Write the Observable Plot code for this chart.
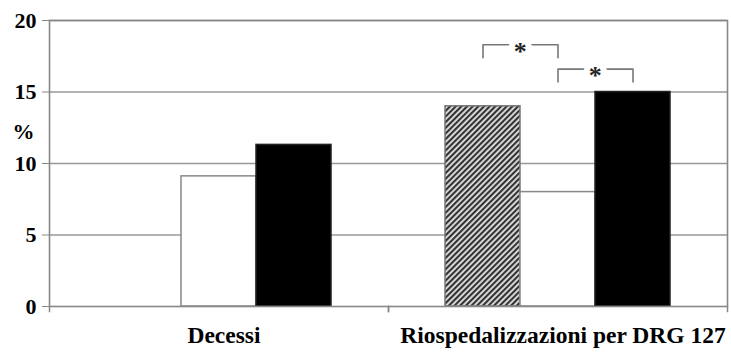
<!DOCTYPE html>
<html>
<head>
<meta charset="utf-8">
<script src="https://cdn.jsdelivr.net/npm/d3@7"></script>
<script src="https://cdn.jsdelivr.net/npm/@observablehq/plot@0.6"></script>
<style>
  html, body { margin: 0; padding: 0; background: #fff; }
  #chart { width: 731px; height: 352px; }
  #chart svg, #chart svg text { font-family: "Liberation Serif", "Times New Roman", Times, serif !important; }
</style>
</head>
<body>
<div id="chart"></div>
<script>
// ---- data ----
const groups = ["Decessi", "Riospedalizzazioni per DRG 127"];
const seriesKeys = ["hatched", "white", "black"];
const decessiValues = [null, 9.1, 11.3];
const riospValues = [14.0, 8.0, 15.0];
const yTicks = [0, 5, 10, 15, 20];
const gridTicks = [5, 10, 15, 20];
const yLabel = "%";
const yLabelAt = [12.2];

// significance brackets (group Riospedalizzazioni)
const bracketGroup = ["Riospedalizzazioni per DRG 127", "Riospedalizzazioni per DRG 127"];
const bracketFrom = ["hatched", "white"];
const bracketTo = ["white", "black"];
const bracketTop = [18.3, 16.6];
const bracketBottom = [17.4, 15.7];
const bracketText = ["*", "*"];

// ---- build tables ----
const rows = [];
[decessiValues, riospValues].forEach((vals, gi) => {
  vals.forEach((v, si) => {
    if (v != null) rows.push({group: groups[gi], series: seriesKeys[si], value: v});
  });
});
const bracketPts = [];
bracketFrom.forEach((f, i) => {
  const g = bracketGroup[i];
  bracketPts.push({id: i, group: g, s: f, v: bracketBottom[i]});
  bracketPts.push({id: i, group: g, s: f, v: bracketTop[i]});
  bracketPts.push({id: i, group: g, s: bracketTo[i], v: bracketTop[i]});
  bracketPts.push({id: i, group: g, s: bracketTo[i], v: bracketBottom[i]});
});
const stars = bracketFrom.map((f, i) => ({group: bracketGroup[i], s: bracketTo[i], v: bracketTop[i], t: bracketText[i]}));

const W = 731, H = 352, mL = 48, mR = 4, mT = 20, mB = 46;
const facetW = (W - mL - mR) / groups.length;
const bandW = facetW / (seriesKeys.length + 1.5);

const serif = "'Liberation Serif', 'Times New Roman', Times, serif";
const fillOf = {hatched: "url(#hatch)", white: "white", black: "black"};
const strokeOf = {hatched: "#777", white: "#888", black: "#222"};

const chart = Plot.plot({
  width: W, height: H,
  marginLeft: mL, marginRight: mR, marginTop: mT, marginBottom: mB,
  style: {fontFamily: serif, background: "white", color: "black"},
  fx: {domain: groups, padding: 0, axis: null, label: null},
  x: {domain: seriesKeys, paddingInner: 0, paddingOuter: 0.75, axis: null, label: null},
  y: {domain: [0, 20], axis: null, label: null},
  marks: [
    Plot.ruleY(gridTicks, {stroke: "#999", strokeWidth: 1.6}),
    ...seriesKeys.map(k => Plot.barY(rows.filter(d => d.series === k), {
      fx: "group", x: "series", y: "value",
      fill: fillOf[k], stroke: strokeOf[k], strokeWidth: 1.5
    })),
    Plot.frame({facet: "super", stroke: "#888", strokeWidth: 1.6}),
    Plot.frame({anchor: "left", stroke: "#888", strokeWidth: 1.5, insetTop: H - mT - mB, insetBottom: -5}),
    Plot.frame({anchor: "right", stroke: "#888", strokeWidth: 1.5, insetTop: H - mT - mB, insetBottom: -5}),
    Plot.axisY({ticks: yTicks, tickSize: 7, tickPadding: 6, stroke: "#888", fill: "black",
      fontSize: 22, fontWeight: "bold", fontFamily: serif, label: null, tickFormat: d => String(d)}),
    Plot.axisFx({anchor: "bottom", tickSize: 0, tickPadding: 20, fontSize: 23.5, fontWeight: "bold",
      fontFamily: serif, fill: "black", label: null, dx: 5}),
    Plot.text([yLabel], {facetAnchor: "left", frameAnchor: "left", y: yLabelAt, dx: -26, textAnchor: "middle",
      fontSize: 22, fontWeight: "bold", fontFamily: serif, fill: "black"}),
    Plot.line(bracketPts, {fx: "group", x: "s", y: "v", z: "id", stroke: "#777", strokeWidth: 1.6}),
    Plot.text(stars, {fx: "group", x: "s", y: "v", text: "t", dx: -bandW / 2, dy: 7,
      fontSize: 26, fontWeight: "bold", fontFamily: serif, fill: "#222", stroke: "white", strokeWidth: 12, paintOrder: "stroke"})
  ]
});

const svg = chart.tagName.toLowerCase() === "svg" ? chart : chart.querySelector("svg");
const defs = d3.select(svg).insert("defs", ":first-child");
const pat = defs.append("pattern")
  .attr("id", "hatch")
  .attr("patternUnits", "userSpaceOnUse")
  .attr("width", 4).attr("height", 4)
  .attr("patternTransform", "rotate(45)");
pat.append("rect").attr("width", 4).attr("height", 4).attr("fill", "#e6e6e6");
pat.append("rect").attr("width", 2.2).attr("height", 4).attr("fill", "#333");

document.getElementById("chart").appendChild(chart);
</script>
</body>
</html>
